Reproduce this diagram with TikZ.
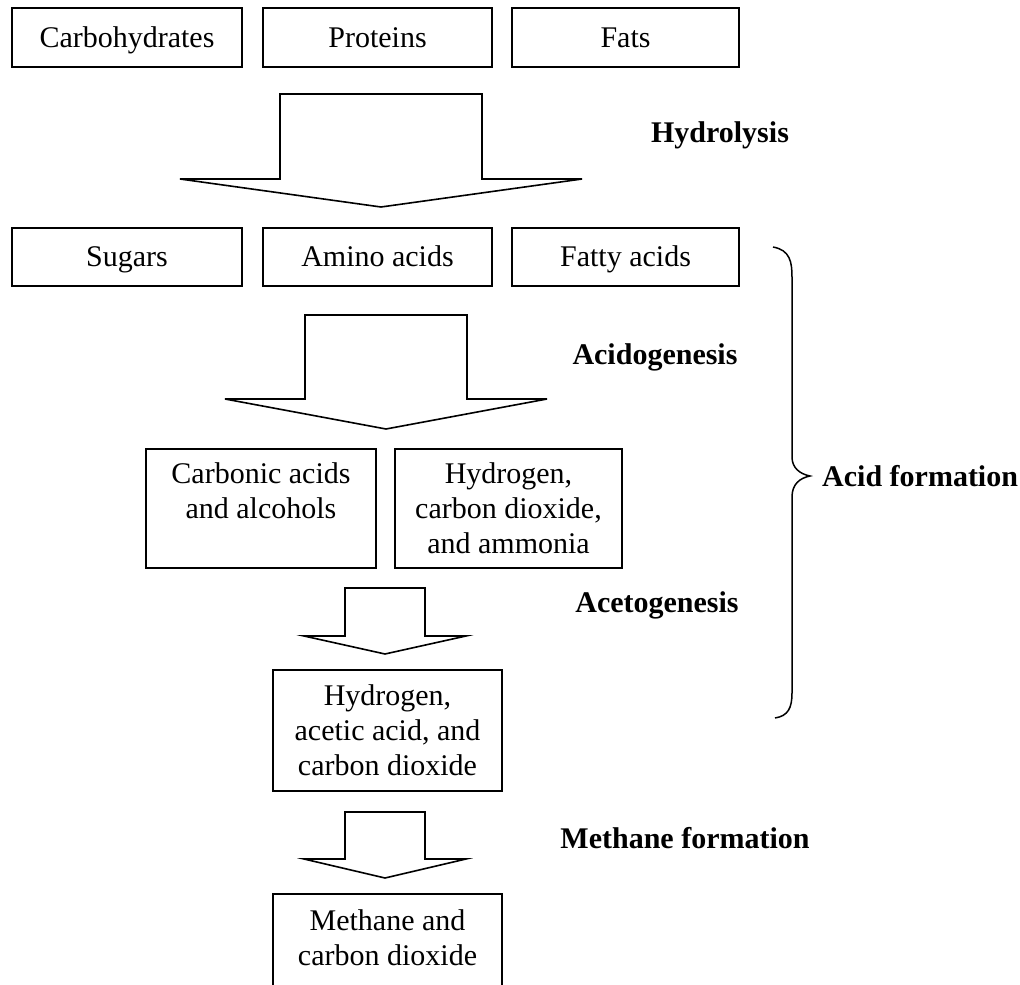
\documentclass[tikz,border=0pt]{standalone}
\usepackage{fontspec}
\setmainfont{Liberation Serif}
\usetikzlibrary{positioning}

\begin{document}
\begin{tikzpicture}[x=1pt,y=-1pt,
  stagebox/.style={draw,line width=1.7pt,align=center,inner sep=0pt,
    font=\fontsize{30}{35}\selectfont},
  onelinebox/.style={stagebox,text height=21pt,text depth=2pt},
  stagelabel/.style={inner sep=0pt,font=\fontsize{30}{35}\selectfont\bfseries},
  blockarrow/.style={draw,line width=1.6pt,line join=miter}]
\useasboundingbox (0,0) rectangle (1020,985);
\clip (0,0) rectangle (1020,985);

% substrates and their hydrolysis products
\foreach \name/\cx/\w/\txt in {carb/127/230/Carbohydrates,
    prot/377.5/229/Proteins, fats/625.5/227/Fats} {
  \node[onelinebox,minimum width=\w,minimum height=59] (\name) at (\cx,37.5) {\txt};
}
\foreach \name/\cx/\w/\txt in {sugar/127/230/Sugars,
    amino/377.5/229/Amino acids, fatty/625.5/227/Fatty acids} {
  \node[onelinebox,minimum width=\w,minimum height=58] (\name) at (\cx,257) {\txt};
}

% intermediate products
\node[stagebox,minimum width=230,minimum height=119] (carbacid) at (261,508.5)
  {Carbonic acids\\and alcohols\\\mbox{}};
\node[stagebox,minimum width=227,minimum height=119] (hydrammon) at (508.5,508.5)
  {Hydrogen,\\carbon dioxide,\\and ammonia};
\node[stagebox,minimum width=229,minimum height=121] (acetic) at (387.5,730.5)
  {Hydrogen,\\acetic acid, and\\carbon dioxide};
\node[stagebox,minimum width=229,minimum height=122] (methane) at (387.5,955)
  {Methane and\\carbon dioxide\\\mbox{}};

% block arrows: centre/top/shaft half/shoulder/head half/tip
\foreach \cx/\ytop/\sh/\ysh/\hh/\ytip in {381/94/101/179/201/207,
    386/315/81/399/161/429, 385/588/40/636/81/654, 385/812/40/859/81/878} {
  \draw[blockarrow] ({\cx-\sh},\ytop) -- ({\cx+\sh},\ytop) -- ({\cx+\sh},\ysh)
    -- ({\cx+\hh},\ysh) -- (\cx,\ytip) -- ({\cx-\hh},\ysh) -- ({\cx-\sh},\ysh) -- cycle;
}

% stage names
\node[stagelabel] (hydrolysis) at (720,135) {Hydrolysis};
\node[stagelabel] (acidogen) at (655,357) {Acidogenesis};
\node[stagelabel] (acetogen) at (657,605) {Acetogenesis};
\node[stagelabel] (methform) at (685,838) {Methane formation};

% brace over the acid forming steps
\coordinate (bracetip) at (810,476);
\draw[line width=1.5pt] (773,247) .. controls (790,250) and (792,262) .. (792,277)
  -- (792,457) .. controls (792,468) and (800,474) .. (bracetip)
  .. controls (800,478) and (792,484) .. (792,497)
  -- (792,693) .. controls (792,708) and (788,716) .. (775,718);
\node[stagelabel,right=12pt of bracetip] (acidform) {Acid formation};
\end{tikzpicture}
\end{document}
